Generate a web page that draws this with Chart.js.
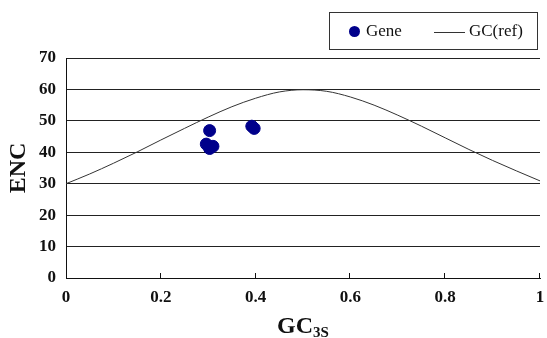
<!DOCTYPE html>
<html>
<head>
<meta charset="utf-8">
<script src="https://cdn.jsdelivr.net/npm/chart.js@4/dist/chart.umd.min.js"></script>
<style>
  html, body { margin: 0; padding: 0; background: #fff; }
  #wrap { position: relative; width: 547px; height: 338px; }
  #legend {
    position: absolute; left: 329px; top: 12px; width: 207px; height: 36px;
    border: 1px solid #333; font-family: "Liberation Serif", serif; font-size: 17px;
    color: #111; box-sizing: content-box;
  }
  #legend .item { position: absolute; top: 0; height: 36px; line-height: 36px; white-space: nowrap; }
  #legend .dot { display: inline-block; width: 11px; height: 11px; border-radius: 50%; vertical-align: middle; margin-right: 6px; position: relative; top: -1px; }
  #legend .line { display: inline-block; width: 31px; height: 0; border-top: 1px solid #333; vertical-align: middle; margin-right: 4px; }
</style>
</head>
<body>
<div id="wrap">
  <canvas id="encChart" width="547" height="338"></canvas>
  <div id="legend"></div>
</div>
<script>
// Gene points (GC3s vs ENC)
const geneGC3s = [0.303, 0.296, 0.310, 0.303, 0.392, 0.397];
const geneENC  = [46.9, 42.6, 41.9, 41.2, 48.3, 47.6];

// expected curve
const refGC3s = [0, 0.05, 0.1, 0.15, 0.2, 0.25, 0.3, 0.35, 0.4, 0.45, 0.5,
                 0.55, 0.6, 0.65, 0.7, 0.75, 0.8, 0.85, 0.9, 0.95, 1];
const refENC  = [30.0, 33.1, 36.5, 40.1, 43.9, 47.6, 51.2, 54.5, 57.2, 59.2, 59.9,
                 59.4, 57.6, 55.0, 51.8, 48.3, 44.6, 40.9, 37.4, 34.1, 30.9];

const xTicks = [0, 0.2, 0.4, 0.6, 0.8, 1];

const serif = '"Liberation Serif", "Times New Roman", serif';

const geneData = geneGC3s.map((x, i) => ({ x: x, y: geneENC[i] }));
const refData = refGC3s.map((x, i) => ({ x: x, y: refENC[i] }));

// small ticks pointing up from the x axis, plus the GC3S title with subscript
const axisExtras = {
    id: 'axisExtras',
    afterDraw(chart) {
        const ctx = chart.ctx;
        const xs = chart.scales.x;
        const bottom = chart.chartArea.bottom;
        ctx.save();
        ctx.strokeStyle = '#111';
        ctx.lineWidth = 1;
        xTicks.slice(1).forEach(v => {
            const px = Math.round(xs.getPixelForValue(v)) - 0.5;
            ctx.beginPath();
            ctx.moveTo(px, bottom);
            ctx.lineTo(px, bottom - 5);
            ctx.stroke();
        });
        // x title
        const cx = (chart.chartArea.left + chart.chartArea.right) / 2;
        ctx.fillStyle = '#111';
        ctx.textBaseline = 'alphabetic';
        ctx.font = 'bold 24px ' + serif;
        const w1 = ctx.measureText('GC').width;
        ctx.font = 'bold 15px ' + serif;
        const w2 = ctx.measureText('3S').width;
        const x0 = cx - (w1 + w2) / 2;
        ctx.font = 'bold 24px ' + serif;
        ctx.fillText('GC', x0, 333);
        ctx.font = 'bold 15px ' + serif;
        ctx.fillText('3S', x0 + w1, 337);
        ctx.restore();
    }
};

const ctx = document.getElementById('encChart').getContext('2d');
const encChart = new Chart(ctx, {
    type: 'scatter',
    data: {
        datasets: [{
            label: 'Gene',
            data: geneData,
            backgroundColor: '#00008b',
            borderColor: '#00008b',
            pointRadius: 6,
            pointHoverRadius: 6,
            order: 1
        }, {
            type: 'line',
            label: 'GC(ref)',
            data: refData,
            borderColor: '#333',
            borderWidth: 1,
            pointRadius: 0,
            fill: false,
            cubicInterpolationMode: 'monotone',
            order: 2
        }]
    },
    options: {
        responsive: false,
        animation: false,
        layout: { padding: { top: 58, right: 0, left: 0, bottom: 0 } },
        plugins: {
            legend: { display: false },
            tooltip: { enabled: false }
        },
        scales: {
            x: {
                type: 'linear',
                min: 0,
                max: 1,
                afterBuildTicks: (scale) => { scale.ticks = xTicks.map(v => ({ value: v })); },
                ticks: {
                    color: '#111',
                    padding: 9,
                    font: { family: serif, size: 17, weight: 'bold' },
                    callback: (v) => String(+v.toFixed(1))
                },
                grid: { display: true, drawOnChartArea: false, drawTicks: false },
                border: { display: true, color: '#111', width: 1 },
                afterFit: (scale) => { scale.height = 60; scale.paddingRight = 2; }
            },
            y: {
                min: 0,
                max: 70,
                ticks: {
                    stepSize: 10,
                    color: '#111',
                    padding: 10,
                    font: { family: serif, size: 17, weight: 'bold' }
                },
                grid: { color: '#222', lineWidth: 1, drawTicks: false },
                border: { display: true, color: '#111', width: 1 },
                title: {
                    display: true,
                    text: 'ENC',
                    color: '#111',
                    padding: { top: 4, bottom: 0 },
                    font: { family: serif, size: 24, weight: 'bold' }
                },
                afterFit: (scale) => { scale.width = 66; }
            }
        }
    },
    plugins: [axisExtras]
});

// legend box, built from the chart datasets
const legendEl = document.getElementById('legend');
const ds = encChart.data.datasets;
legendEl.innerHTML =
    '<span class="item" style="left:19px"><span class="dot" style="background:' + ds[0].backgroundColor + '"></span>' + ds[0].label + '</span>' +
    '<span class="item" style="left:104px"><span class="line"></span>' + ds[1].label + '</span>';
</script>
</body>
</html>
